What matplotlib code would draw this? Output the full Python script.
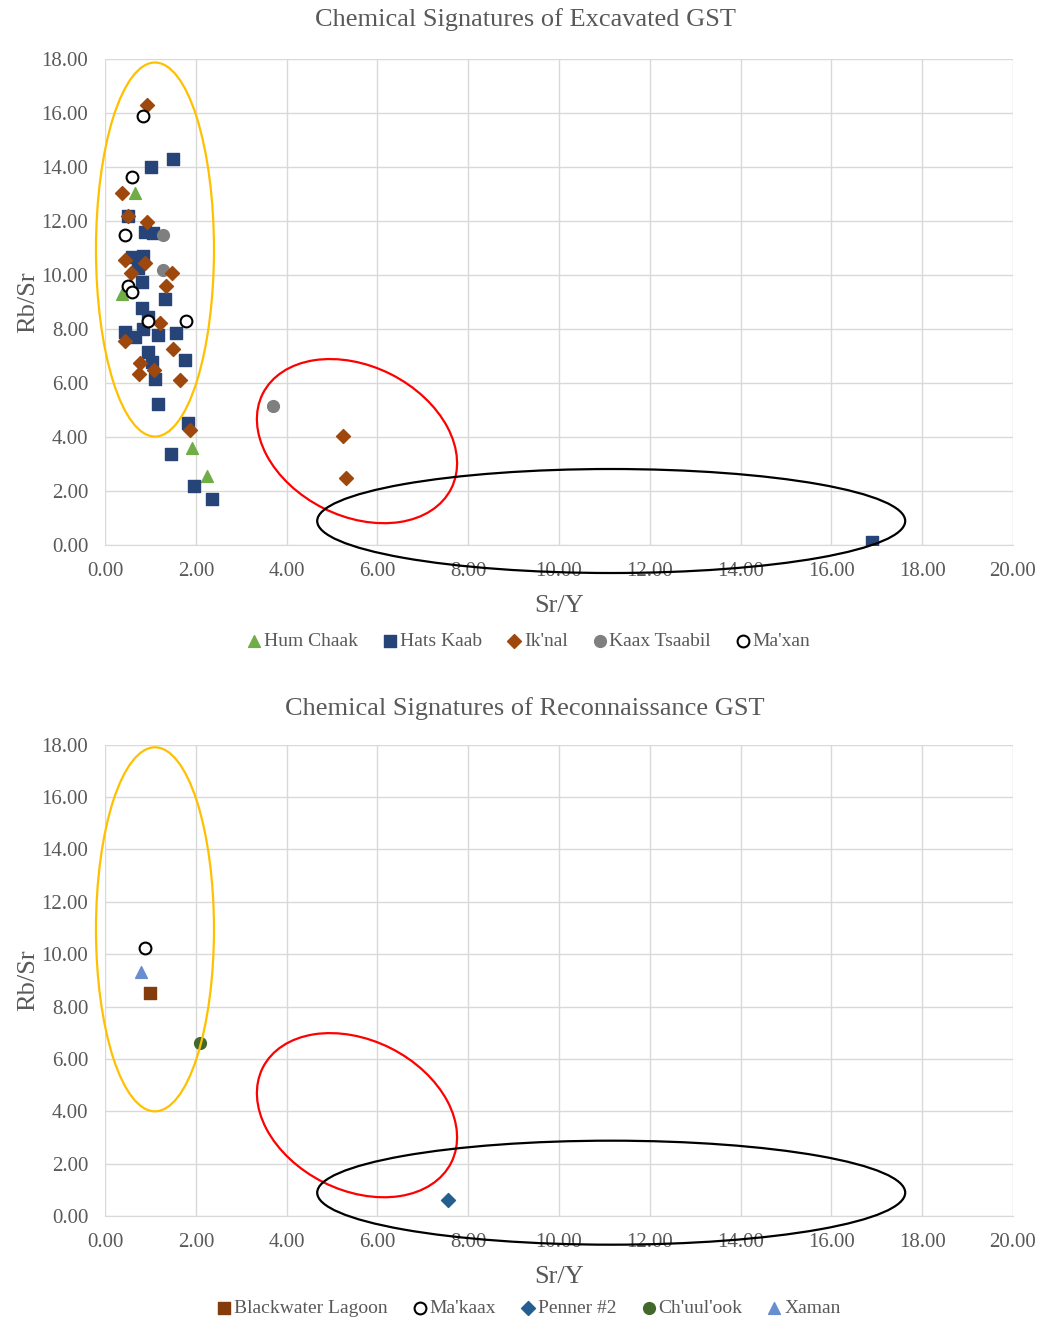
import matplotlib
matplotlib.use("Agg")
import matplotlib.pyplot as plt
from matplotlib.patches import Ellipse
from matplotlib.transforms import ScaledTranslation
from matplotlib.ticker import MultipleLocator, FormatStrFormatter

plt.rcParams['font.family'] = ['Liberation Serif', 'DejaVu Serif']

# ==============================
# DATA - excavated GST
# ==============================
hum_chaak_x = [0.66, 0.37, 1.91, 2.25]
hum_chaak_y = [13.06, 9.32, 3.60, 2.55]

hats_kaab_x = [1.50, 1.01, 0.51, 0.88, 1.06, 0.59, 0.84, 0.73, 0.81, 1.32, 0.82, 0.95,
               0.84, 0.44, 0.65, 1.17, 1.56, 0.94, 1.76, 1.03, 1.10, 1.16, 1.83, 1.45,
               1.95, 2.35, 16.90]
hats_kaab_y = [14.30, 14.00, 12.20, 11.60, 11.55, 10.68, 10.72, 10.25, 9.75, 9.10, 8.77, 8.46,
               8.02, 7.90, 7.72, 7.80, 7.84, 7.15, 6.85, 6.79, 6.17, 5.21, 4.54, 3.37,
               2.20, 1.69, 0.11]

iknal_x = [0.92, 0.38, 0.51, 0.92, 0.44, 0.88, 0.57, 1.47, 1.35, 1.21, 0.43, 1.50,
           0.77, 1.08, 0.75, 1.66, 1.87, 5.24, 5.31]
iknal_y = [16.30, 13.06, 12.20, 11.96, 10.56, 10.45, 10.09, 10.08, 9.59, 8.24, 7.55, 7.28,
           6.73, 6.50, 6.34, 6.12, 4.28, 4.04, 2.48]

kaax_x = [1.28, 1.28, 3.70]
kaax_y = [11.47, 10.19, 5.15]

maxan_x = [0.84, 0.60, 0.44, 0.51, 0.59, 0.95, 1.78]
maxan_y = [15.90, 13.64, 11.47, 9.59, 9.38, 8.31, 8.30]

# ==============================
# DATA - reconnaissance GST
# ==============================
blackwater_x, blackwater_y = [0.99], [8.53]
makaax_x, makaax_y = [0.87], [10.25]
penner_x, penner_y = [7.56], [0.61]
chuulook_x, chuulook_y = [2.09], [6.60]
xaman_x, xaman_y = [0.79], [9.31]

GRID = "#D9D9D9"
TXT = "#595959"


def style_axes(ax, fig, title, title_y):
    ax.set_xlim(0, 20)
    ax.set_ylim(0, 18)
    ax.xaxis.set_major_locator(MultipleLocator(2))
    ax.yaxis.set_major_locator(MultipleLocator(2))
    ax.xaxis.set_major_formatter(FormatStrFormatter("%.2f"))
    ax.yaxis.set_major_formatter(FormatStrFormatter("%.2f"))
    ax.grid(True, color=GRID, linewidth=1.0)
    ax.set_axisbelow(True)
    for s in ("top", "right", "left"):
        ax.spines[s].set_visible(False)
    ax.spines["bottom"].set_color(GRID)
    ax.tick_params(length=0, labelsize=15, labelcolor=TXT, pad=12)
    ax.tick_params(axis="x", pad=12)
    fig.text(0.505, title_y, title, fontsize=19, color=TXT, ha="center", va="center")
    ax.set_xlabel("Sr/Y", fontsize=19, color=TXT, labelpad=10)
    ax.set_ylabel("Rb/Sr", fontsize=19, color=TXT, labelpad=2)


def ring(ax, fig, cx, cy, w_px, h_px, angle, color):
    # ellipse sized in pixels, centred on a data point
    tr = fig.dpi_scale_trans + ScaledTranslation(cx, cy, ax.transData)
    e = Ellipse((0, 0), w_px / 100, h_px / 100, angle=angle, transform=tr,
                fill=False, edgecolor=color, linewidth=1.6, clip_on=False, zorder=10)
    ax.add_artist(e)


def rings(ax, fig, hscale):
    ring(ax, fig, 1.10, 10.95, 118, 374 * hscale, 0, "#FFC000")
    ring(ax, fig, 5.55, 3.85, 211, 150, -26.7, "#FF0000")
    ring(ax, fig, 11.15, 0.89, 588, 104, 0, "#000000")


def add_legend(ax, y):
    ax.legend(loc="center", bbox_to_anchor=(0.466, y), ncol=5, frameon=False,
              fontsize=14, handletextpad=0.05, handlelength=0.9, columnspacing=1.2,
              markerscale=1.0, labelcolor=TXT, borderaxespad=0)


fig = plt.figure(figsize=(10.4, 13.2), dpi=100)

# ---------- top ----------
ax1 = fig.add_axes([0.101, 0.5871, 0.873, 0.368])
style_axes(ax1, fig, "Chemical Signatures of Excavated GST", 1 - 20 / 1320)
ms = 72
ax1.scatter(hum_chaak_x, hum_chaak_y, marker="^", s=ms, color="#70AD47", label="Hum Chaak", zorder=3)
ax1.scatter(hats_kaab_x, hats_kaab_y, marker="s", s=ms, color="#264478", label="Hats Kaab", zorder=3)
ax1.scatter(iknal_x, iknal_y, marker="D", s=ms * 0.7, color="#9E480E", label="Ik'nal", zorder=4)
ax1.scatter(kaax_x, kaax_y, marker="o", s=ms, color="#7F7F7F", label="Kaax Tsaabil", zorder=3)
ax1.scatter(maxan_x, maxan_y, marker="o", s=ms, facecolor="white", edgecolor="black",
            linewidth=1.5, label="Ma'xan", zorder=5)
rings(ax1, fig, 1.0)
add_legend(ax1, -0.198)

# ---------- bottom ----------
ax2 = fig.add_axes([0.101, 0.0788, 0.873, 0.357])
style_axes(ax2, fig, "Chemical Signatures of Reconnaissance GST", 1 - 709 / 1320)
ax2.scatter(blackwater_x, blackwater_y, marker="s", s=ms, color="#843C0C", label="Blackwater Lagoon", zorder=3)
ax2.scatter(makaax_x, makaax_y, marker="o", s=ms, facecolor="white", edgecolor="black",
            linewidth=1.5, label="Ma'kaax", zorder=3)
ax2.scatter(penner_x, penner_y, marker="D", s=ms * 0.7, color="#255E91", label="Penner #2", zorder=3)
ax2.scatter(chuulook_x, chuulook_y, marker="o", s=ms, color="#43682B", label="Ch'uul'ook", zorder=3)
ax2.scatter(xaman_x, xaman_y, marker="^", s=ms, color="#698ED0", label="Xaman", zorder=3)
rings(ax2, fig, 364 / 374)
add_legend(ax2, -0.195)

fig.savefig("out.png", dpi=100, facecolor="white")
